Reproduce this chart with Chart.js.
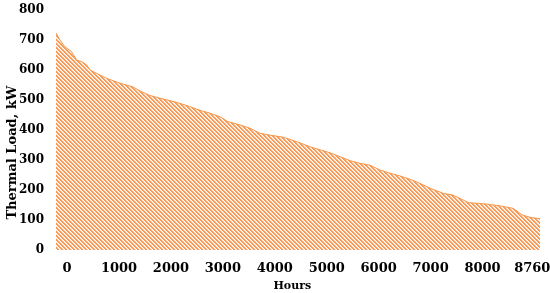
<!DOCTYPE html>
<html>
<head>
<meta charset="utf-8">
<script src="https://cdn.jsdelivr.net/npm/chart.js@4.4.0/dist/chart.umd.min.js"></script>
<style>
	html, body { margin: 0; padding: 0; background: #fff; }
	#wrap { width: 550px; height: 293px; }
</style>
</head>
<body>
<div id="wrap"><canvas id="load_chart"></canvas></div>
<script>
// load duration curve
var hours = [0, 70, 160, 280, 375, 465, 555, 615, 735, 920, 1160, 1390, 1520, 1700, 1880, 2060, 2240, 2420, 2600, 2790, 2970, 3110, 3330, 3510, 3690, 3870, 4110, 4360, 4600, 4780, 4960, 5140, 5320, 5500, 5680, 5860, 6045, 6225, 6405, 6590, 6770, 7005, 7185, 7365, 7460, 7800, 8040, 8270, 8360, 8435, 8580, 8760];
var load = [724, 700, 678, 661, 633, 628, 617, 600, 589, 572, 556, 544, 530, 515, 506, 498, 489, 478, 466, 456, 444, 428, 417, 406, 389, 383, 376, 361, 344, 334, 324, 311, 298, 289, 283, 267, 256, 247, 236, 222, 206, 189, 183, 167, 158, 153, 147, 139, 128, 117, 109, 104];

// x tick labels and where they sit (in hours)
var xTickLabels = ["0", "1000", "2000", "3000", "4000", "5000", "6000", "7000", "8000", "8760"];
var xTickPos = [200, 1140, 2080, 3020, 3960, 4900, 5840, 6780, 7720, 8620];

function makeHatch() {
	var c = document.createElement("canvas");
	c.width = 4;
	c.height = 4;
	var g = c.getContext("2d");
	g.fillStyle = "#ffffff";
	g.fillRect(0, 0, 4, 4);
	for (var x = 0; x < 4; x++) {
		for (var y = 0; y < 4; y++) {
			var d = ((x - y) % 4 + 4) % 4;
			if (d == 0 || d == 1) {
				g.fillStyle = "#F89B58";
				g.fillRect(x, y, 1, 1);
			} else if (d == 2) {
				g.fillStyle = "#FDDCC3";
				g.fillRect(x, y, 1, 1);
			}
		}
	}
	return g.createPattern(c, "repeat");
}

var points = new Array();
for (var i in hours) {
	points[i] = { x: hours[i], y: load[i] };
}

var font = "'DejaVu Serif', serif";

var ctx = document.getElementById("load_chart").getContext("2d");
new Chart(ctx, {
	type: "line",
	data: {
		datasets: [
			{
				label: "Thermal Load",
				data: points,
				fill: "origin",
				backgroundColor: makeHatch(),
				borderColor: "#F79646",
				borderWidth: 1,
				pointRadius: 0,
				tension: 0
			}
		]
	},
	options: {
		responsive: true,
		maintainAspectRatio: false,
		animation: false,
		layout: { padding: { top: 10, right: 10, left: 0, bottom: 0 } },
		plugins: {
			legend: { display: false },
			tooltip: { enabled: false }
		},
		scales: {
			x: {
				type: "linear",
				min: 0,
				max: 8760,
				grid: { display: false, drawTicks: false },
				border: { display: false },
				afterBuildTicks: function (scale) {
					scale.ticks = xTickPos.map(function (v) { return { value: v }; });
				},
				ticks: {
					autoSkip: false,
					maxRotation: 0,
					padding: 11,
					color: "#000",
					font: { family: font, size: 13, weight: "bold" },
					callback: function (v, i) { return xTickLabels[i]; }
				},
				title: {
					display: true,
					text: "Hours   ",
					color: "#000",
					padding: { top: 3, bottom: 0 },
					font: { family: font, size: 11, weight: "bold" }
				},
				afterFit: function (scale) {
					scale.height = 43;
					scale.paddingLeft = 0;
					scale.paddingRight = 0;
				}
			},
			y: {
				min: 0,
				max: 800,
				grid: { display: false, drawTicks: false },
				border: { display: false },
				ticks: {
					stepSize: 100,
					padding: 12,
					color: "#000",
					font: { family: font, size: 12, weight: "bold" }
				},
				title: {
					display: true,
					text: "Thermal Load, kW          ",
					color: "#000",
					padding: { top: 5, bottom: 0 },
					font: { family: font, size: 13, weight: "bold" }
				},
				afterFit: function (scale) {
					scale.width = 56;
					scale.paddingTop = 0;
					scale.paddingBottom = 0;
				}
			}
		}
	}
});
</script>
</body>
</html>
